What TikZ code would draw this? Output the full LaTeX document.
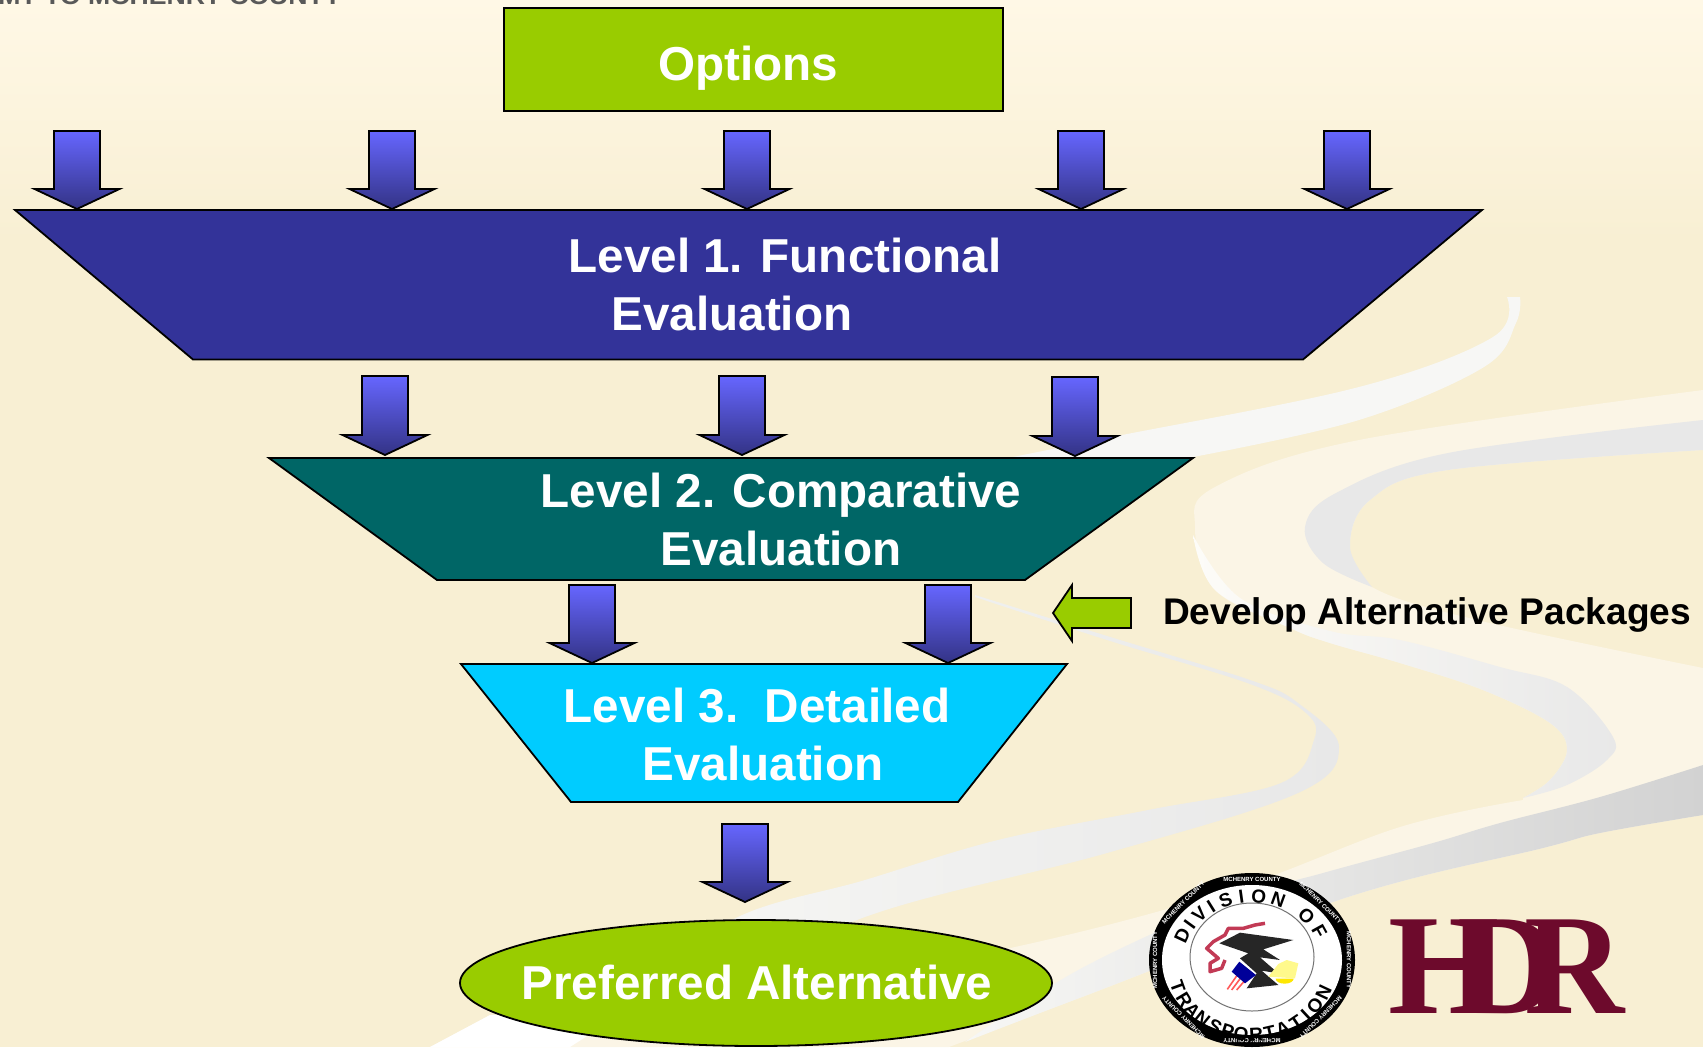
\documentclass[tikz,border=0pt]{standalone}
\usepackage{fontspec}
\setmainfont{Liberation Sans}
\newfontfamily\serifb{Liberation Serif}
\usetikzlibrary{shapes.geometric,calc}
\definecolor{bgtop}{HTML}{FFF8E6}
\definecolor{bgmain}{HTML}{F8EFD3}
\definecolor{creamband}{HTML}{FBF5E6}
\definecolor{ribwhite}{HTML}{F7F7F5}
\definecolor{ribstart}{HTML}{FDFCF8}
\definecolor{ribgrey}{HTML}{E8E8E8}
\definecolor{ribdark}{HTML}{D2D2D2}
\definecolor{arrtop}{HTML}{6666FF}
\definecolor{arrbot}{HTML}{333385}
\definecolor{lvlone}{HTML}{333399}
\definecolor{lvltwo}{HTML}{006666}
\definecolor{lvlthree}{HTML}{00CCFF}
\definecolor{limeg}{HTML}{99CC00}
\definecolor{hdrred}{HTML}{6D0A2C}
\definecolor{ilred}{HTML}{C23A55}
\tikzset{
  outl/.style={draw=black,line width=1.8pt,line join=miter},
  lvltext/.style={text=white,font=\bfseries\fontsize{47.6}{58}\selectfont,align=center,inner sep=0pt},
  downarrow/.style={outl,top color=arrtop,bottom color=arrbot},
  ringtxt/.style={text=white,font=\bfseries\fontsize{6}{7}\selectfont,inner sep=0pt},
  sealtxt/.style={text=black,font=\bfseries\fontsize{19}{20}\selectfont,inner sep=0pt},
  hdrl/.style={text=hdrred,font=\serifb\bfseries\fontsize{143}{143}\selectfont,inner sep=0pt,anchor=base west}
}
\newcommand{\blockarrow}[4]{%
  \coordinate (#1t) at (#2,#3);
  \coordinate (#1b) at (#2,#4);
  \path[downarrow] ($(#1t)+(-23,0)$) -- ($(#1t)+(23,0)$) -- ($(#1b)+(23,-20)$) -- ($(#1b)+(42.5,-20)$)
    -- (#1b) -- ($(#1b)+(-42.5,-20)$) -- ($(#1b)+(-23,-20)$) -- cycle;
}
\begin{document}
\begin{tikzpicture}[x=1pt,y=-1pt]
\useasboundingbox (0,0) rectangle (1703,1047);
\clip (0,0) rectangle (1703,1047);
% background
\fill[bgmain] (0,0) rectangle (1703,1047);
\shade[top color=bgtop,bottom color=bgmain] (0,0) rectangle (1703,240);
% road swooshes: large cream band
\fill[creamband] plot[smooth,tension=.6] coordinates {(1703,390)(1359,440)(1215,487)(1195,527)(1215,590)(1290,628)(1330,643)(1400,663)(1483,690)(1550,723)(1567,750)(1550,780)(1523,798)}
  -- plot[smooth,tension=.6] coordinates {(1523,800)(1400,827)(1231,890)(1015,947)(732,1000)(490,1015)}
  -- (430,1047)
  -- plot[smooth,tension=.6] coordinates {(949,1047)(1082,997)(1348,897)(1543,848)(1600,833)(1703,815)}
  -- plot[smooth,tension=.6] coordinates {(1703,668)(1477,620)(1372,587)(1350,547)(1370,500)(1448,470)(1703,450)} -- cycle;
\fill[ribgrey] plot[smooth,tension=.6] coordinates {(1703,420)(1448,453)(1336,493)(1305,527)(1323,563)(1372,587)}
  -- plot[smooth,tension=.6] coordinates {(1372,587)(1350,547)(1370,500)(1448,470)(1703,450)} -- cycle;
\shade[left color=ribstart,right color=ribgrey] plot[smooth,tension=.6] coordinates {(1193,535)(1240,598)(1330,631)(1400,640)(1500,667)(1567,687)(1613,737)(1607,760)(1567,785)(1523,798)}
  -- plot[smooth,tension=.6] coordinates {(1523,798)(1550,780)(1567,750)(1550,723)(1483,690)(1400,663)(1330,643)(1290,628)(1215,590)(1193,535)} -- cycle;
\fill[ribwhite] plot[smooth,tension=.6] coordinates {(1507,297)(1493,337)(1359,387)(1112,437)(1013,457)}
  -- plot[smooth,tension=.6] coordinates {(1193,457)(1359,420)(1484,367)(1516,323)(1520,297)} -- cycle;
\shade[left color=ribwhite,right color=ribgrey] plot[smooth,tension=.6] coordinates {(975,595)(1107,636)(1250,680)(1298,703)(1339,747)(1298,793)(1107,853)(865,917)(700,1000)}
  -- plot[smooth,tension=.6] coordinates {(640,1000)(732,920)(865,880)(998,840)(1148,810)(1281,783)(1314,740)(1306,713)(1250,684)(1107,640)(975,597)} -- cycle;
\fill[white] (430,1047) -- (490,1015) -- (620,1015) -- (570,1047) -- cycle;
\shade[left color=ribwhite,right color=ribdark] plot[smooth,tension=.6] coordinates {(965,1042)(1082,968)(1231,900)(1323,873)(1433,843)(1500,823)(1600,797)(1703,765)}
  -- plot[smooth,tension=.6] coordinates {(1703,815)(1600,833)(1543,848)(1348,897)(1082,997)(965,1042)} -- cycle;
% cut-off header
\node[anchor=base east,text=black!65,font=\bfseries\fontsize{24}{26}\selectfont,inner sep=0pt,xscale=1.11] (hdr) at (342,4) {MT TO MCHENRY COUNTY};
% options
\node[outl,fill=limeg,minimum width=499pt,minimum height=103pt,inner sep=0pt] (optbox) at (753.5,59.5) {};
\node[lvltext] (opt) at (748,68) {Options};
% level shapes
\path[outl,fill=lvlone] (15,210) -- (1482,210) -- (1303,359.5) -- (193,359.5) -- cycle;
\path[outl,fill=lvltwo] (269,458) -- (1193,458) -- (1025,580) -- (437,580) -- cycle;
\path[outl,fill=lvlthree] (461,664) -- (1067,664) -- (958,802) -- (571,802) -- cycle;
\node[ellipse,outl,fill=limeg,minimum width=592pt,minimum height=126pt,inner sep=0pt] (prefshape) at (756,983) {};
\node[lvltext] (l1) at (785,284) {Level 1. Functional\\\hspace*{-106pt}Evaluation};
\node[lvltext] (l2) at (781,519) {Level 2. Comparative\\Evaluation};
\node[lvltext] (l3) at (757,734) {Level 3.\ \ Detailed\\\hspace*{12pt}Evaluation};
\node[lvltext] (pref) at (757,982) {Preferred Alternative};
% arrows
\blockarrow{a}{77}{131}{209}
\blockarrow{b}{392}{131}{209}
\blockarrow{c}{747}{131}{209}
\blockarrow{d}{1081}{131}{209}
\blockarrow{e}{1347}{131}{209}
\blockarrow{f}{385}{376}{455}
\blockarrow{g}{742}{376}{455}
\blockarrow{h}{1075}{377}{456}
\blockarrow{i}{592}{585}{663}
\blockarrow{j}{948}{585}{663}
\blockarrow{k}{745}{824}{902}
% develop arrow
\path[outl,fill=limeg] (1053,613) -- (1072,585) -- (1072,598) -- (1131,598) -- (1131,628) -- (1072,628) -- (1072,641) -- cycle;
\node[anchor=base west,font=\bfseries\fontsize{37.1}{40}\selectfont,inner sep=0pt] (dev) at (1163,624) {Develop Alternative Packages};
% seal
\coordinate (sealc) at (1252,960);
\fill[black] (sealc) ellipse [x radius=103pt,y radius=87pt];
\fill[white] (sealc) ellipse [x radius=90pt,y radius=75pt];
\draw[black!55,line width=1pt] (1252,957) ellipse [x radius=62pt,y radius=54pt];
\foreach \a in {0,45,...,315}{
  \node[ringtxt,rotate=\a-90] (ring\a) at ($(sealc)+({97*cos(\a)},{-81*sin(\a)})$) {MCHENRY COUNTY};
}
\foreach \c/\a in {D/155,I/144,V/133,I/122,S/110,I/98,O/85,N/70,O/45,F/29}{
  \node[sealtxt,rotate=\a-90] at ($(1252,964)+({77*cos(\a)},{-68*sin(\a)})$) {\c};
}
\foreach \c/\a in {T/200,R/211,A/221,N/231,S/242,P/252,O/262,R/273,T/283,A/293,T/304,I/313,O/323,N/335}{
  \node[sealtxt,rotate=\a+90] at ($(1252,962)+({79*cos(\a)},{-73*sin(\a)})$) {\c};
}
\begin{scope}[shift={(1130,860)},x=.3333pt,y=-.3333pt]
  \draw[ilred,line width=3.5pt,line join=round] (405,190) -- (375,195) -- (340,205) -- (295,205) -- (285,225) -- (250,245) -- (230,265) -- (265,295) -- (240,310) -- (240,335) -- (275,325) -- (285,300);
  \fill[black!85] (268,250) -- (330,218) -- (490,240) -- (400,268) -- (450,300) -- (390,292) -- (445,340) -- (395,332) -- (445,375) -- (350,385) -- (380,340) -- (330,295) -- (355,280) -- cycle;
  \fill[yellow!45!white] (415,350) -- (445,312) -- (470,300) -- (505,310) -- (495,355) -- cycle;
  \fill[yellow!90!orange] (437,356) arc (180:0:27 and 15) -- cycle;
  \fill[white] (285,392) -- (318,345) -- (362,360) -- (335,392) -- cycle;
  \draw[red!65!white,line width=1.6pt] (292,388) -- (322,345) (305,390) -- (335,350) (320,390) -- (350,355);
  \fill[blue!60!black] (305,335) -- (328,305) -- (378,345) -- (345,370) -- cycle;
\end{scope}
% HDR
\node[hdrl] (hdrh) at (1388,1013) {H};
\node[hdrl,xscale=.98] (hdrd) at (1457,1013) {D};
\node[hdrl,xscale=.97] (hdrr) at (1524,1013) {R};
\fill[hdrred] (1420,958) rectangle (1470,970);
\end{tikzpicture}
\end{document}
